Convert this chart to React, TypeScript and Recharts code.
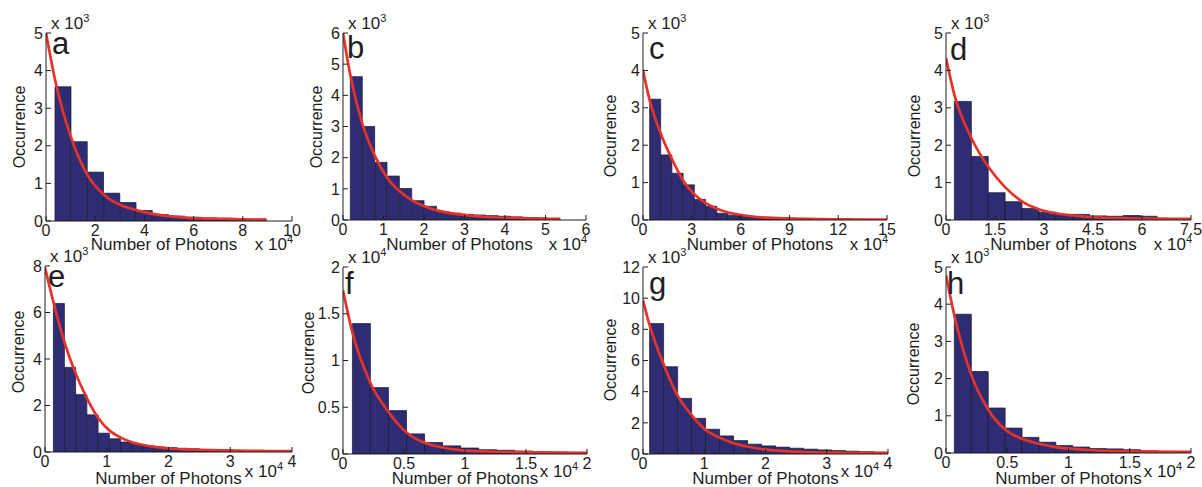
import React from 'react';
import { ComposedChart, Bar, Line, XAxis, YAxis } from 'recharts';

// histogram bin centres, counts, and the red fit curve, per panel
const aBinX = [0.696, 1.357, 2.018, 2.679, 3.34, 4.001, 4.662, 5.323, 5.984, 6.645, 7.306, 7.967, 8.628];
const aCount = [3.57, 2.11, 1.3, 0.74, 0.49, 0.28, 0.17, 0.13, 0.1, 0.08, 0.07, 0.06, 0.05];
const aFitX = [0, 0.37, 1.03, 1.69, 2.35, 3.01, 3.67, 4.33, 4.99, 5.65, 6.31, 6.98, 7.64, 8.3, 8.96];
const aFitY = [5.0, 3.75, 2.2, 1.22, 0.7, 0.43, 0.29, 0.19, 0.13, 0.09, 0.07, 0.06, 0.05, 0.04, 0.04];

const bBinX = [0.333, 0.638, 0.943, 1.248, 1.553, 1.858, 2.163, 2.468, 2.773, 3.078, 3.383, 3.688, 3.993, 4.298, 4.603, 4.908, 5.213];
const bCount = [4.6, 3.0, 1.85, 1.41, 1.01, 0.62, 0.44, 0.27, 0.22, 0.18, 0.16, 0.14, 0.12, 0.1, 0.08, 0.07, 0.05];
const bFitX = [0, 0.18, 0.485, 0.79, 1.095, 1.4, 1.705, 2.01, 2.315, 2.62, 2.925, 3.23, 3.535, 3.84, 4.145, 4.45, 4.755, 5.06, 5.365];
const bFitY = [6.0, 4.65, 3.05, 2.05, 1.35, 0.92, 0.63, 0.44, 0.31, 0.23, 0.17, 0.13, 0.1, 0.08, 0.07, 0.06, 0.05, 0.04, 0.04];

const cBinX = [0.755, 1.445, 2.135, 2.825, 3.515, 4.205, 4.895, 5.585, 6.275, 6.965, 7.655, 8.345, 9.035, 9.725, 10.415, 11.105, 11.795, 12.485, 13.175, 13.865, 14.555];
const cCount = [3.23, 1.74, 1.25, 0.94, 0.55, 0.37, 0.18, 0.13, 0.11, 0.09, 0.07, 0.06, 0.05, 0.04, 0.035, 0.03, 0.025, 0.02, 0.02, 0.015, 0.01];
const cFitX = [0, 0.41, 1.1, 1.79, 2.48, 3.17, 3.86, 4.55, 5.24, 5.93, 6.62, 7.31, 8.0, 8.69, 9.38, 10.07, 10.76, 11.45, 12.14, 12.83, 13.52, 14.21, 15.0];
const cFitY = [4.0, 3.2, 2.3, 1.62, 1.05, 0.68, 0.45, 0.3, 0.2, 0.14, 0.1, 0.07, 0.055, 0.045, 0.035, 0.03, 0.025, 0.02, 0.02, 0.015, 0.01, 0.01, 0.01];

const dBinX = [0.514, 1.031, 1.548, 2.065, 2.582, 3.099, 3.616, 4.133, 4.65, 5.167, 5.684, 6.201, 6.718, 7.235];
const dCount = [3.17, 1.7, 0.73, 0.49, 0.31, 0.21, 0.15, 0.15, 0.11, 0.1, 0.12, 0.1, 0.04, 0.03];
const dFitX = [0, 0.255, 0.772, 1.289, 1.806, 2.323, 2.84, 3.357, 3.874, 4.391, 4.908, 5.425, 5.942, 6.459, 6.976, 7.5];
const dFitY = [4.33, 3.35, 2.2, 1.43, 0.88, 0.5, 0.29, 0.18, 0.12, 0.08, 0.06, 0.05, 0.04, 0.04, 0.03, 0.03];

const eBinX = [0.227, 0.409, 0.591, 0.773, 0.955, 1.137, 1.319, 1.501, 1.683, 1.865, 2.047, 2.229, 2.411, 2.593, 2.775, 2.957, 3.139, 3.321, 3.503, 3.685];
const eCount = [6.39, 3.64, 2.47, 1.6, 0.81, 0.57, 0.43, 0.33, 0.26, 0.21, 0.19, 0.16, 0.14, 0.11, 0.1, 0.09, 0.07, 0.06, 0.05, 0.04];
const eFitX = [0, 0.136, 0.318, 0.5, 0.682, 0.864, 1.046, 1.228, 1.41, 1.592, 1.774, 1.956, 2.138, 2.32, 2.502, 2.684, 2.866, 3.048, 3.23, 3.412, 3.594, 3.776, 4.0];
const eFitY = [7.93, 6.45, 4.7, 3.35, 2.3, 1.45, 0.92, 0.62, 0.42, 0.3, 0.22, 0.17, 0.13, 0.11, 0.09, 0.08, 0.07, 0.06, 0.05, 0.05, 0.04, 0.04, 0.04];

const fBinX = [0.151, 0.299, 0.447, 0.595, 0.743, 0.891, 1.039, 1.187, 1.335, 1.483, 1.631, 1.779, 1.927];
const fCount = [1.395, 0.71, 0.464, 0.215, 0.123, 0.087, 0.064, 0.046, 0.04, 0.032, 0.025, 0.021, 0.018];
const fFitX = [0, 0.077, 0.225, 0.373, 0.521, 0.669, 0.817, 0.965, 1.113, 1.261, 1.409, 1.557, 1.705, 1.853, 2.0];
const fFitY = [1.75, 1.3, 0.76, 0.45, 0.23, 0.12, 0.07, 0.042, 0.03, 0.024, 0.02, 0.017, 0.015, 0.013, 0.012];

const gBinX = [0.222, 0.451, 0.679, 0.908, 1.136, 1.365, 1.593, 1.822, 2.05, 2.279, 2.507, 2.736, 2.964, 3.193, 3.421, 3.65, 3.878];
const gCount = [8.37, 5.6, 3.57, 2.29, 1.59, 1.16, 0.86, 0.63, 0.52, 0.44, 0.37, 0.31, 0.26, 0.22, 0.18, 0.15, 0.12];
const gFitX = [0, 0.108, 0.337, 0.565, 0.794, 1.022, 1.251, 1.479, 1.708, 1.936, 2.165, 2.393, 2.622, 2.85, 3.079, 3.307, 3.536, 3.764, 4.0];
const gFitY = [9.87, 8.27, 5.75, 3.75, 2.5, 1.55, 1.05, 0.7, 0.48, 0.32, 0.23, 0.17, 0.13, 0.1, 0.09, 0.08, 0.07, 0.07, 0.06];

const hBinX = [0.137, 0.275, 0.413, 0.551, 0.689, 0.827, 0.965, 1.103, 1.241, 1.379, 1.517, 1.655, 1.793, 1.931];
const hCount = [3.73, 2.19, 1.21, 0.67, 0.42, 0.29, 0.2, 0.16, 0.12, 0.11, 0.09, 0.06, 0.045, 0.03];
const hFitX = [0, 0.068, 0.206, 0.344, 0.482, 0.62, 0.758, 0.896, 1.034, 1.172, 1.31, 1.448, 1.586, 1.724, 1.862, 2.0];
const hFitY = [4.78, 3.7, 2.1, 1.17, 0.63, 0.38, 0.25, 0.16, 0.11, 0.08, 0.06, 0.05, 0.04, 0.035, 0.03, 0.03];

// axis ticks
const aXTicks = [0, 2, 4, 6, 8, 10];
const bXTicks = [0, 1, 2, 3, 4, 5, 6];
const cXTicks = [0, 3, 6, 9, 12, 15];
const dXTicks = [0, 1.5, 3, 4.5, 6, 7.5];
const eXTicks = [0, 1, 2, 3, 4];
const fXTicks = [0, 0.5, 1, 1.5, 2];
const gXTicks = [0, 1, 2, 3, 4];
const hXTicks = [0, 0.5, 1, 1.5, 2];

const aYTicks = [0, 1, 2, 3, 4, 5];
const bYTicks = [0, 1, 2, 3, 4, 5, 6];
const cYTicks = [0, 1, 2, 3, 4, 5];
const dYTicks = [0, 1, 2, 3, 4, 5];
const eYTicks = [0, 2, 4, 6, 8];
const fYTicks = [0, 0.5, 1, 1.5, 2];
const gYTicks = [0, 2, 4, 6, 8, 10, 12];
const hYTicks = [0, 1, 2, 3, 4, 5];

const FONT = '"Liberation Sans", Arial, Helvetica, sans-serif';
const INK = '#1e1e1e';
const BAR = '#2e2d74';
const RED = '#e6322b';

type PanelDef = {
  letter: string;
  row: number;
  left: number;
  top: number;
  right: number;
  bottom: number;
  binX: number[];
  count: number[];
  fitX: number[];
  fitY: number[];
  xTicks: number[];
  yTicks: number[];
  yExp: string;
  letterX: number;
  letterY: number;
  occX: number;
  occY: number;
};

const panels: PanelDef[] = [
  { letter: 'a', row: 0, left: 46, top: 33, right: 292, bottom: 221, binX: aBinX, count: aCount, fitX: aFitX, fitY: aFitY, xTicks: aXTicks, yTicks: aYTicks, yExp: '3', letterX: 52, letterY: 54, occX: 19.5, occY: 127 },
  { letter: 'b', row: 0, left: 343, top: 33, right: 586, bottom: 220, binX: bBinX, count: bCount, fitX: bFitX, fitY: bFitY, xTicks: bXTicks, yTicks: bYTicks, yExp: '3', letterX: 347, letterY: 58, occX: 316.5, occY: 127 },
  { letter: 'c', row: 0, left: 643, top: 33, right: 887, bottom: 220, binX: cBinX, count: cCount, fitX: cFitX, fitY: cFitY, xTicks: cXTicks, yTicks: cYTicks, yExp: '3', letterX: 649, letterY: 59, occX: 610, occY: 136 },
  { letter: 'd', row: 0, left: 946, top: 33, right: 1191, bottom: 220, binX: dBinX, count: dCount, fitX: dFitX, fitY: dFitY, xTicks: dXTicks, yTicks: dYTicks, yExp: '3', letterX: 950, letterY: 60, occX: 914, occY: 136 },
  { letter: 'e', row: 1, left: 45, top: 266, right: 292, bottom: 452, binX: eBinX, count: eCount, fitX: eFitX, fitY: eFitY, xTicks: eXTicks, yTicks: eYTicks, yExp: '3', letterX: 48, letterY: 287, occX: 18.5, occY: 352 },
  { letter: 'f', row: 1, left: 343, top: 267, right: 587, bottom: 454, binX: fBinX, count: fCount, fitX: fFitX, fitY: fFitY, xTicks: fXTicks, yTicks: fYTicks, yExp: '4', letterX: 345, letterY: 294, occX: 308.5, occY: 353 },
  { letter: 'g', row: 1, left: 643, top: 267, right: 888, bottom: 454, binX: gBinX, count: gCount, fitX: gFitX, fitY: gFitY, xTicks: gXTicks, yTicks: gYTicks, yExp: '3', letterX: 649, letterY: 294, occX: 610, occY: 360 },
  { letter: 'h', row: 1, left: 946, top: 267, right: 1191, bottom: 453, binX: hBinX, count: hCount, fitX: hFitX, fitY: hFitY, xTicks: hXTicks, yTicks: hYTicks, yExp: '3', letterX: 947, letterY: 294, occX: 913, occY: 364 },
];

const blank = () => '';

function Panel({ p }: { p: PanelDef }) {
  const bins = p.binX.map((x, i) => ({ x, count: p.count[i] }));
  const fit = p.fitX.map((x, i) => ({ x, fit: p.fitY[i] }));
  const w = p.right - p.left;
  const h = p.bottom - p.top;
  const xMax = p.xTicks[p.xTicks.length - 1];
  const yMax = p.yTicks[p.yTicks.length - 1];
  const axisStyle = { stroke: INK, strokeWidth: 1 };
  const tickStyle = { fill: INK, fontSize: 16, fontFamily: FONT };
  return (
    <div style={{ position: 'absolute', left: p.left - 40, top: p.top - 10 }}>
      <ComposedChart
        width={w + 54}
        height={h + 40}
        data={bins}
        margin={{ top: 10, right: 14, left: 0, bottom: 0 }}
        barCategoryGap={0}
        barGap={0}
      >
        <XAxis xAxisId="bins" dataKey="x" type="number" domain={[0, xMax]} allowDataOverflow hide height={0} />
        <XAxis
          xAxisId="main"
          dataKey="x"
          type="number"
          domain={[0, xMax]}
          allowDataOverflow
          ticks={p.xTicks}
          interval={0}
          height={30}
          tickSize={-5}
          tickMargin={9}
          axisLine={axisStyle}
          tickLine={axisStyle}
          tick={tickStyle}
        />
        <XAxis
          xAxisId="top"
          orientation="top"
          dataKey="x"
          type="number"
          domain={[0, xMax]}
          allowDataOverflow
          ticks={p.xTicks}
          interval={0}
          height={0}
          tickSize={-5}
          tickFormatter={blank}
          axisLine={axisStyle}
          tickLine={axisStyle}
        />
        <YAxis
          yAxisId="left"
          type="number"
          domain={[0, yMax]}
          allowDataOverflow
          ticks={p.yTicks}
          interval={0}
          width={40}
          tickSize={-5}
          tickMargin={8}
          axisLine={axisStyle}
          tickLine={axisStyle}
          tick={tickStyle}
        />
        <YAxis
          yAxisId="right"
          orientation="right"
          type="number"
          domain={[0, yMax]}
          allowDataOverflow
          ticks={p.yTicks}
          interval={0}
          width={0}
          tickSize={-5}
          tickFormatter={blank}
          axisLine={axisStyle}
          tickLine={axisStyle}
        />
        <Bar
          xAxisId="bins"
          yAxisId="left"
          dataKey="count"
          fill={BAR}
          stroke="#15152e"
          strokeWidth={0.7}
          isAnimationActive={false}
        />
        <Line
          xAxisId="main"
          yAxisId="left"
          data={fit}
          dataKey="fit"
          type="monotone"
          stroke={RED}
          strokeWidth={2.7}
          dot={false}
          activeDot={false}
          isAnimationActive={false}
        />
      </ComposedChart>
    </div>
  );
}

function Labels() {
  return (
    <svg
      width={1202}
      height={487}
      style={{ position: 'absolute', left: 0, top: 0, pointerEvents: 'none' }}
      fontFamily={FONT}
      fill={INK}
    >
      {panels.map((p) => {
        const xLabelY = p.row === 0 ? 250 : 484;
        const xExpY = p.row === 0 ? 250 : 477;
        const xExpRight = p.row === 0 ? p.right + 1 : p.right - 9;
        const mid = (p.left + p.right) / 2 + (p.row === 0 ? -5 : 0);
        return (
          <g key={p.letter}>
            <text x={p.letterX} y={p.letterY} fontSize={31}>
              {p.letter}
            </text>
            <text x={p.left + 5} y={p.top - 4} fontSize={17}>
              x 10
              <tspan dy={-7} fontSize={11}>
                {p.yExp}
              </tspan>
            </text>
            <text x={mid} y={xLabelY} fontSize={17} textAnchor="middle">
              Number of Photons
            </text>
            <text x={xExpRight} y={xExpY} fontSize={17} textAnchor="end">
              x 10
              <tspan dy={-7} fontSize={11}>
                4
              </tspan>
            </text>
            <text
              x={p.occX}
              y={p.occY}
              fontSize={16}
              textAnchor="middle"
              dominantBaseline="central"
              transform={`rotate(-90 ${p.occX} ${p.occY})`}
            >
              Occurrence
            </text>
          </g>
        );
      })}
    </svg>
  );
}

export default function App() {
  return (
    <div
      style={{
        position: 'absolute',
        left: 0,
        top: 0,
        width: 1202,
        height: 487,
        background: '#fff',
        overflow: 'hidden',
      }}
    >
      {panels.map((p) => (
        <Panel key={p.letter} p={p} />
      ))}
      <Labels />
    </div>
  );
}
